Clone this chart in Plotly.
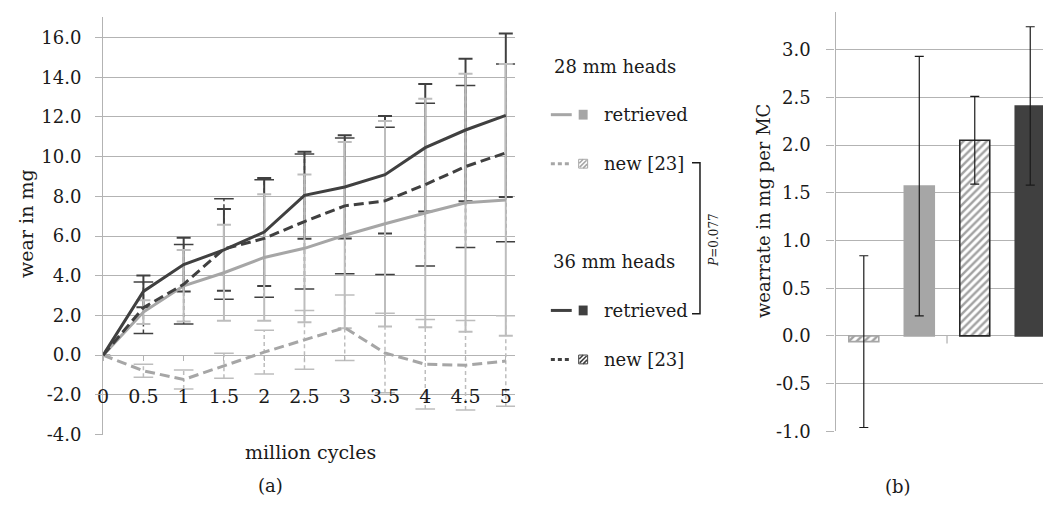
import plotly.graph_objects as go

# ---------------- data ----------------
cycles = [0, 0.5, 1, 1.5, 2, 2.5, 3, 3.5, 4, 4.5, 5]
cycle_labels = ["0", "0.5", "1", "1.5", "2", "2.5", "3", "3.5", "4", "4.5", "5"]

wear_28_retrieved = [0, 2.17, 3.49, 4.15, 4.92, 5.38, 6.04, 6.62, 7.16, 7.68, 7.82]
sd_28_retrieved = [0, 0.6, 1.8, 2.42, 3.19, 3.72, 4.69, 5.18, 5.76, 6.5, 6.84]

wear_28_new = [0, -0.79, -1.23, -0.54, 0.15, 0.77, 1.38, 0.11, -0.46, -0.51, -0.30]
sd_28_new = [0, 0.33, 0.48, 0.63, 1.1, 1.48, 1.65, 2.0, 2.25, 2.25, 2.28]

wear_36_retrieved = [0, 3.21, 4.56, 5.3, 6.2, 8.05, 8.47, 9.09, 10.45, 11.34, 12.08]
sd_36_retrieved = [0, 0.8, 1.35, 2.06, 2.72, 2.19, 2.6, 2.96, 3.21, 3.59, 4.12]

wear_36_new = [0, 2.39, 3.57, 5.35, 5.88, 6.73, 7.52, 7.77, 8.59, 9.5, 10.19]
sd_36_new = [0, 1.3, 2.0, 2.53, 2.96, 3.4, 3.42, 3.71, 4.1, 4.08, 4.48]

groups = ["28 mm new [23]", "28 mm retrieved", "36 mm new [23]", "36 mm retrieved"]
wear_rate = [-0.06, 1.57, 2.05, 2.41]
wear_rate_sd = [0.9, 1.36, 0.46, 0.83]

left_ticks = [-4, -2, 0, 2, 4, 6, 8, 10, 12, 14, 16]
right_ticks = [-1.0, -0.5, 0.0, 0.5, 1.0, 1.5, 2.0, 2.5, 3.0]

# ---------------- style ----------------
W, H = 1043, 506
LIGHT = "#a6a6a6"
DARK = "#404040"
GRID = "#b3b3b3"
ERRL = "#bdbdbd"
TEXT = "#1a1a1a"
FONT = "DejaVu Serif"


def px(x):
    return x / W


def py(y):
    return 1 - y / H


L_XDOM = [px(97.7), px(512)]
L_YDOM = [py(443.3), py(17)]
L_YR = [-4, 17.05]
R_XDOM = [px(834.3), 1.0]
R_YDOM = [py(440), py(12.7)]
R_YR = [-1, 3.39]

zero_pos = L_YDOM[0] + (0 - L_YR[0]) / (L_YR[1] - L_YR[0]) * (L_YDOM[1] - L_YDOM[0])

fig = go.Figure()


def nz(arr):
    return [a if a else None for a in arr]


def solid_err(y, sd, color):
    fig.add_trace(go.Scatter(
        x=cycles, y=y, mode="markers", marker=dict(size=1, opacity=0),
        error_y=dict(type="data", array=nz(sd), color=color, thickness=2, width=7),
        showlegend=False, hoverinfo="skip"))


def dashed_err(y, sd, color):
    xs, ys, cx, cy = [], [], [], []
    for xv, v, s in zip(cycles, y, sd):
        if not s:
            continue
        xs += [xv, xv, None]
        ys += [v - s, v + s, None]
        cx += [xv, xv]
        cy += [v - s, v + s]
    fig.add_trace(go.Scatter(x=xs, y=ys, mode="lines",
                             line=dict(color=color, width=1.5, dash="4px,3px"),
                             showlegend=False, hoverinfo="skip"))
    fig.add_trace(go.Scatter(x=cx, y=cy, mode="markers",
                             marker=dict(symbol="line-ew", size=14,
                                         line=dict(color=color, width=1.5)),
                             showlegend=False, hoverinfo="skip"))


solid_err(wear_36_retrieved, sd_36_retrieved, DARK)
dashed_err(wear_36_new, sd_36_new, DARK)
dashed_err(wear_28_new, sd_28_new, ERRL)
solid_err(wear_28_retrieved, sd_28_retrieved, ERRL)

fig.add_trace(go.Scatter(x=cycles, y=wear_28_new, mode="lines", name="28 mm new [23]",
                         line=dict(color=LIGHT, width=3, dash="10px,5px"), showlegend=False))
fig.add_trace(go.Scatter(x=cycles, y=wear_28_retrieved, mode="lines", name="28 mm retrieved",
                         line=dict(color=LIGHT, width=3), showlegend=False))
fig.add_trace(go.Scatter(x=cycles, y=wear_36_new, mode="lines", name="36 mm new [23]",
                         line=dict(color=DARK, width=3, dash="10px,5px"), showlegend=False))
fig.add_trace(go.Scatter(x=cycles, y=wear_36_retrieved, mode="lines", name="36 mm retrieved",
                         line=dict(color=DARK, width=3), showlegend=False))

# bar chart
fig.add_trace(go.Bar(
    x=groups, y=wear_rate, xaxis="x2", yaxis="y2", width=0.54, showlegend=False,
    marker=dict(color=["white", LIGHT, "white", DARK],
                line=dict(color=[LIGHT, LIGHT, "#262626", DARK], width=1.6),
                pattern=dict(shape=["/", "", "/", ""],
                             fgcolor=[LIGHT, LIGHT, "#1a1a1a", DARK],
                             bgcolor=["white", LIGHT, "white", DARK],
                             size=5.5, solidity=0.45)),
    error_y=dict(type="data", array=wear_rate_sd, color=TEXT, thickness=1.2, width=4.5)))

tickfont = dict(family=FONT, size=18, color=TEXT)

fig.update_layout(
    width=W, height=H, margin=dict(l=0, r=0, t=0, b=0),
    paper_bgcolor="white", plot_bgcolor="white",
    xaxis=dict(domain=L_XDOM, range=[0, 5.115], anchor="free", position=zero_pos,
               tickvals=cycles, ticktext=cycle_labels, showgrid=False, zeroline=False,
               showline=False, ticks="outside", ticklen=5, tickcolor=GRID,
               ticklabelstandoff=19, tickfont=dict(family=FONT, size=19, color=TEXT)),
    yaxis=dict(domain=L_YDOM, range=L_YR, anchor="x",
               tickvals=left_ticks, ticktext=[f"{v:.1f}" for v in left_ticks],
               showgrid=True, gridcolor=GRID, gridwidth=1.3, zeroline=False,
               showline=True, linecolor=GRID, linewidth=1.3,
               ticks="outside", ticklen=7, tickcolor=GRID, ticklabelstandoff=10,
               tickfont=tickfont),
    xaxis2=dict(domain=R_XDOM, range=[-0.51, 3.23], anchor="y2", type="category",
                showticklabels=False, showgrid=False, zeroline=False, showline=False),
    yaxis2=dict(domain=R_YDOM, range=R_YR, anchor="x2",
                tickvals=right_ticks, ticktext=[f"{v:.1f}" for v in right_ticks],
                showgrid=True, gridcolor=GRID, gridwidth=1.3, zeroline=False,
                showline=True, linecolor=GRID, linewidth=1.3,
                ticks="outside", ticklen=8, tickcolor=GRID, ticklabelstandoff=12,
                tickfont=tickfont),
)

# category boundary tick on bar chart
fig.add_shape(type="line", xref="x2", yref="y2", x0=1.5, x1=1.5, y0=0, y1=-0.08,
              line=dict(color=GRID, width=1.3))


def ann(text, x, y, size=18, angle=0, xanchor="center", color=TEXT, family=FONT):
    fig.add_annotation(text=text, x=px(x), y=py(y), xref="paper", yref="paper",
                       showarrow=False, textangle=angle, xanchor=xanchor, yanchor="middle",
                       font=dict(family=family, size=size, color=color))


def pline(x0, y0, x1, y1, color, width=1.0, dash="solid"):
    fig.add_shape(type="line", xref="paper", yref="paper", x0=px(x0), x1=px(x1),
                  y0=py(y0), y1=py(y1), line=dict(color=color, width=width, dash=dash))


ann("wear in mg", 20, 227.5, size=19, angle=-90)
ann("million cycles", 306.7, 460.7, size=19)
ann("(a)", 266, 495, size=18)
ann("wearrate in mg per MC", 761.7, 215, size=18, angle=-90)
ann("(b)", 897, 496, size=18)

# legend
ann("28 mm heads", 549, 68.3, xanchor="left")
ann("36 mm heads", 548, 266.7, xanchor="left")
legend_rows = [
    ("retrieved", 117, LIGHT, False),
    ("new [23]", 167, LIGHT, True),
    ("retrieved", 316.7, DARK, False),
    ("new [23]", 366.7, DARK, True),
]
for label, yy, col, hatched in legend_rows:
    if hatched:
        pline(548, yy, 569, yy, col, width=3, dash="4px,3px")
        fig.add_shape(type="rect", xref="paper", yref="paper",
                      x0=px(576), x1=px(585), y0=py(yy + 4.5), y1=py(yy - 4.5),
                      line=dict(color=col, width=1), fillcolor="white")
        pline(577, yy + 3.5, 584, yy - 3.5, col, width=1.6)
        pline(576.5, yy - 0.5, 580.5, yy - 4.5, col, width=1.6)
        pline(580.5, yy + 4.5, 584.5, yy + 0.5, col, width=1.6)
    else:
        pline(548, yy, 569, yy, col, width=3)
        fig.add_shape(type="rect", xref="paper", yref="paper",
                      x0=px(576), x1=px(585), y0=py(yy + 5), y1=py(yy - 5),
                      line=dict(width=0), fillcolor=col)
    ann(label, 599, yy, xanchor="left")

# significance bracket
fig.add_shape(type="path", xref="paper", yref="paper",
              path=f"M {px(690)},{py(166)} L {px(698)},{py(166)} L {px(698)},{py(320)} L {px(690)},{py(320)}",
              line=dict(color=TEXT, width=1.5))
ann("<i>P</i>=0.077", 712.7, 245, size=12, angle=-90)

fig.write_html("out.html")
